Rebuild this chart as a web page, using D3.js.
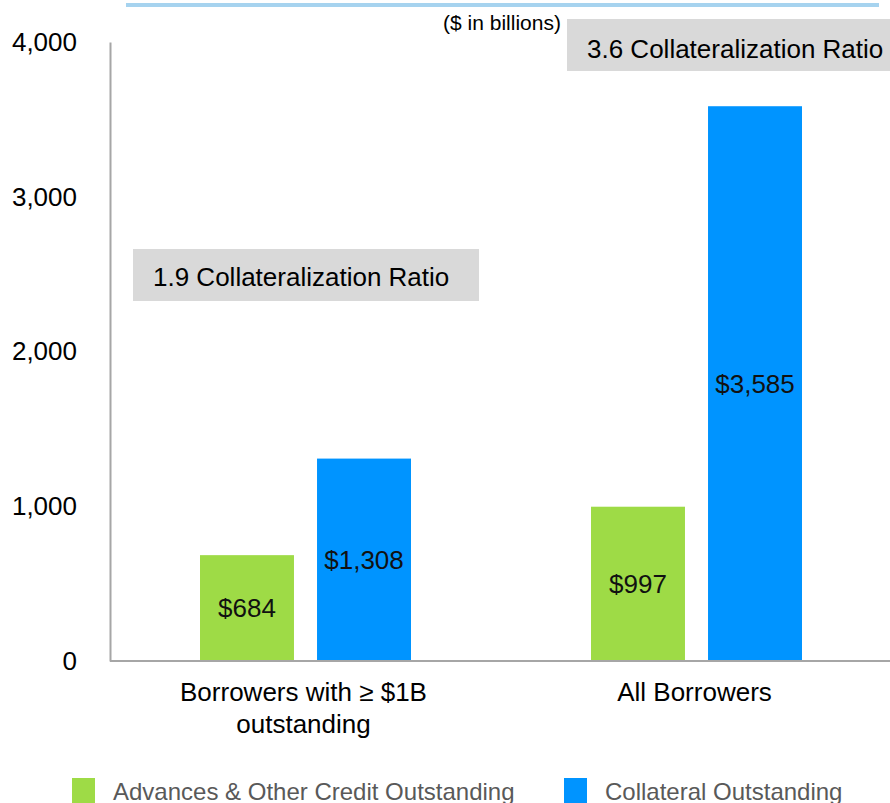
<!DOCTYPE html>
<html>
<head>
<meta charset="utf-8">
<script src="https://cdn.jsdelivr.net/npm/d3@7/dist/d3.min.js"></script>
<style>
  html, body { margin: 0; padding: 0; background: #fff; }
  svg { display: block; font-family: "Liberation Sans", Arial, sans-serif; }
</style>
</head>
<body>
<svg id="chart" width="890" height="803"></svg>
<script>
// ---- Data ----
const categories = ["Borrowers with ≥ $1B|outstanding", "All Borrowers"];
const seriesNames = ["Advances & Other Credit Outstanding", "Collateral Outstanding"];
const advances = [684, 997];
const collateral = [1308, 3585];
const valueLabels = [["$684", "$1,308"], ["$997", "$3,585"]];
const ratioLabels = ["1.9 Collateralization Ratio", "3.6 Collateralization Ratio"];
const yTicks = [0, 1000, 2000, 3000, 4000];
const colors = ["#9edb46", "#0094ff"];

const svg = d3.select("#chart");

const y = d3.scaleLinear().domain([0, 4000]).range([661, 42]);
const x0 = d3.scaleBand().domain(categories).range([110, 892]).padding(0);
const x1 = d3.scaleBand().domain(seriesNames).range([0, 211]).paddingInner(0.197).paddingOuter(0);
const groupOffset = (x0.bandwidth() - 211) / 2;

// top decorative line
svg.append("line").attr("x1", 126).attr("x2", 879).attr("y1", 5).attr("y2", 5)
  .attr("stroke", "#a6d3ef").attr("stroke-width", 4);

// units label
svg.append("text").attr("x", 502).attr("y", 30).attr("text-anchor", "middle")
  .attr("font-size", 21).attr("fill", "#000").text("($ in billions)");

// Y axis
const yAxis = d3.axisLeft(y).tickValues(yTicks).tickSize(0).tickSizeOuter(0).tickPadding(33)
  .tickFormat(d3.format(","));
const gy = svg.append("g").attr("transform", "translate(110,0)").call(yAxis);
gy.select(".domain").attr("stroke", "#a6a6a6").attr("stroke-width", 2);
gy.selectAll(".tick text").attr("font-size", 26).attr("fill", "#000")
  .attr("font-family", "'Liberation Sans', Arial, sans-serif");

// bars
const data = categories.map((c, i) => ({ cat: c, vals: [advances[i], collateral[i]], labels: valueLabels[i] }));
const groups = svg.selectAll("g.grp").data(data).join("g").attr("class", "grp")
  .attr("transform", d => `translate(${x0(d.cat) + groupOffset},0)`);

groups.selectAll("rect").data(d => d.vals.map((v, j) => ({ v, s: seriesNames[j], j })))
  .join("rect")
  .attr("x", d => x1(d.s)).attr("width", x1.bandwidth())
  .attr("y", d => y(d.v)).attr("height", d => y(0) - y(d.v))
  .attr("fill", d => colors[d.j]);

groups.selectAll("text.val").data(d => d.vals.map((v, j) => ({ v, s: seriesNames[j], lab: d.labels[j] })))
  .join("text").attr("class", "val")
  .attr("x", d => x1(d.s) + x1.bandwidth() / 2)
  .attr("y", d => (y(d.v) + y(0)) / 2)
  .attr("dy", "0.35em").attr("text-anchor", "middle")
  .attr("font-size", 26).attr("fill", "#111").text(d => d.lab);

// X axis line
svg.append("line").attr("x1", 110).attr("x2", 890).attr("y1", y(0)).attr("y2", y(0))
  .attr("stroke", "#a6a6a6").attr("stroke-width", 2);

// category labels
categories.forEach(c => {
  const lines = c.split("|");
  const t = svg.append("text").attr("text-anchor", "middle").attr("font-size", 26).attr("fill", "#000");
  lines.forEach((ln, k) => {
    t.append("tspan").attr("x", x0(c) + x0.bandwidth() / 2 - 2).attr("y", 701 + k * 32).text(ln);
  });
});

// ratio boxes
const boxes = [
  { x: 133, y: 249, w: 346, h: 52, tx: 153, ty: 286 },
  { x: 567, y: 19, w: 330, h: 52, tx: 587, ty: 58 }
];
boxes.forEach((b, i) => {
  svg.append("rect").attr("x", b.x).attr("y", b.y).attr("width", b.w).attr("height", b.h).attr("fill", "#d9d9d9");
  svg.append("text").attr("x", b.tx).attr("y", b.ty).attr("font-size", 26).attr("fill", "#000").text(ratioLabels[i]);
});

// legend
const legendX = [72, 564];
seriesNames.forEach((s, i) => {
  svg.append("rect").attr("x", legendX[i]).attr("y", 778).attr("width", 23).attr("height", 25).attr("fill", colors[i]);
  svg.append("text").attr("x", legendX[i] + 41).attr("y", 800).attr("font-size", 24).attr("fill", "#595959").text(s);
});
</script>
</body>
</html>
